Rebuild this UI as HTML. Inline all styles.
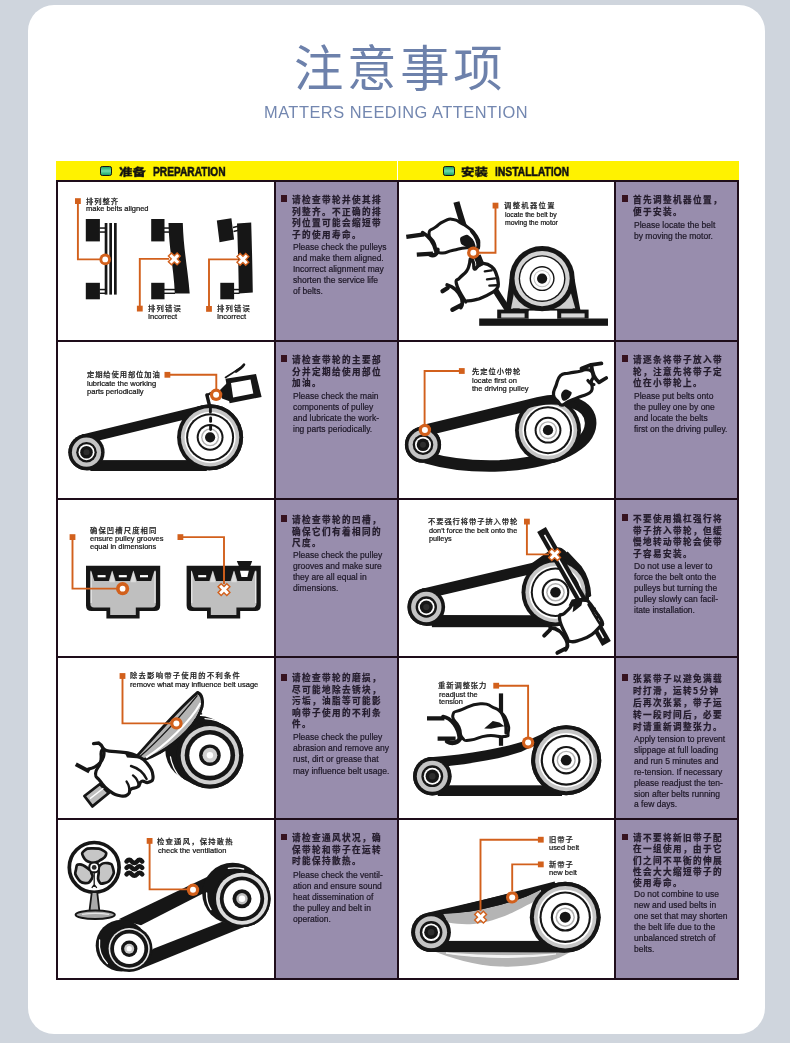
<!DOCTYPE html>
<html lang="zh-CN"><head><meta charset="utf-8"><title>注意事项</title>
<style>
*{box-sizing:border-box}
html,body{margin:0;padding:0}
body{width:790px;height:1043px;overflow:hidden;background:#cfd5dd;position:relative;
 font-family:"Liberation Sans","Noto Sans CJK SC",sans-serif;}
#card{position:absolute;left:28px;top:5px;width:737px;height:1029px;border-radius:26px;background:#fff}
#title{position:absolute;left:293.6px;top:31.1px;font-size:49.4px;line-height:76px;
 font-weight:400;color:#6d81ab;letter-spacing:3.7px;white-space:nowrap}
#sub{position:absolute;left:264.2px;top:101.6px;font-size:16.4px;line-height:20px;
 color:#7387b0;letter-spacing:0.5px;white-space:nowrap}
.hd{position:absolute;top:161px;height:19px;background:#fff200}
.ht{position:absolute;top:163px;height:18px;line-height:18px;font-size:13.3px;font-weight:bold;color:#111;white-space:nowrap;
 transform-origin:0 50%;-webkit-text-stroke:0.55px #111}
.hc{position:absolute;top:161.6px;height:18px;line-height:18px;font-size:13.4px;font-weight:900;color:#111;white-space:nowrap;
 font-family:"Noto Sans CJK SC","Liberation Sans",sans-serif;transform-origin:0 50%;transform:scaleY(0.74);-webkit-text-stroke:0.3px #111}
.ic{position:absolute;top:166.4px;width:11.6px;height:9.6px;border:1.8px solid #141414;border-radius:2.2px;
 background:linear-gradient(#1aa468,#6fdcab 50%,#1aa468)}
.pc{position:absolute;background:#988dad}
.ln{position:absolute;background:#1e0d1a}
.bl{position:absolute;width:6.6px;height:6.6px;background:#36121f}
.zh{position:absolute;font-family:"Noto Sans CJK SC","Liberation Sans",sans-serif;font-size:8.6px;line-height:11.5px;
 letter-spacing:1.4px;color:#241c2c;font-weight:700;white-space:nowrap;-webkit-text-stroke:0.25px #241c2c}
.en{position:absolute;font-size:8.5px;line-height:11.1px;color:#1d1726;white-space:nowrap;-webkit-text-stroke:0.2px #1d1726}
.lz,.le,.zh,.en,.ht,.hc,#title,#sub{will-change:transform}
.lz{position:absolute;font-family:"Noto Sans CJK SC","Liberation Sans",sans-serif;font-size:7.3px;line-height:9px;font-weight:500;-webkit-text-stroke:0.2px #1c1c1c;
 color:#1c1c1c;white-space:nowrap}
.le{position:absolute;color:#151515;white-space:nowrap;-webkit-text-stroke:0.22px #151515}
svg{position:absolute;left:0;top:0}
</style></head>
<body>
<div id="card"></div>
<div id="title">注意事项</div>
<div id="sub">MATTERS NEEDING ATTENTION</div>
<div class="hd" style="left:55.7px;width:341.4px"></div>
<div class="hd" style="left:398px;width:340.6px"></div>
<div class="ic" style="left:100px"></div>
<div class="hc" style="left:119px">准备</div>
<div class="ht" style="left:152.8px;transform:scaleX(0.765)">PREPARATION</div>
<div class="ic" style="left:443px"></div>
<div class="hc" style="left:461px">安装</div>
<div class="ht" style="left:494.8px;transform:scaleX(0.775)">INSTALLATION</div>
<div class="pc" style="left:274.6px;top:180.5px;width:123.0px;height:798.2px"></div>
<div class="pc" style="left:615.1px;top:180.5px;width:122.8px;height:798.2px"></div>
<div class="ln" style="left:55.7px;top:179.5px;width:683.2px;height:2px"></div>
<div class="ln" style="left:55.7px;top:339.5px;width:683.2px;height:2px"></div>
<div class="ln" style="left:55.7px;top:497.7px;width:683.2px;height:2px"></div>
<div class="ln" style="left:55.7px;top:655.5px;width:683.2px;height:2px"></div>
<div class="ln" style="left:55.7px;top:817.7px;width:683.2px;height:2px"></div>
<div class="ln" style="left:55.7px;top:977.7px;width:683.2px;height:2px"></div>
<div class="ln" style="left:55.7px;top:179.5px;width:2px;height:800.2px"></div>
<div class="ln" style="left:273.6px;top:179.5px;width:2px;height:800.2px"></div>
<div class="ln" style="left:396.6px;top:179.5px;width:2px;height:800.2px"></div>
<div class="ln" style="left:614.1px;top:179.5px;width:2px;height:800.2px"></div>
<div class="ln" style="left:736.9px;top:179.5px;width:2px;height:800.2px"></div>
<div class="bl" style="left:280.5px;top:195.3px"></div>
<div class="zh" style="left:291.6px;top:193.6px;line-height:11.5px">请检查带轮并使其排<br>列整齐。不正确的排<br>列位置可能会缩短带<br>子的使用寿命。</div>
<div class="en" style="left:292.5px;top:241.8px;line-height:11.0px">Please check the pulleys<br>and make them aligned.<br>Incorrect alignment may<br>shorten the service life<br>of belts.</div>
<div class="bl" style="left:621.9px;top:195.3px"></div>
<div class="zh" style="left:633.0px;top:193.5px;line-height:11.7px">首先调整机器位置，<br>便于安装。</div>
<div class="en" style="left:633.9px;top:219.7px;line-height:10.8px">Please locate the belt<br>by moving the motor.</div>
<div class="bl" style="left:280.5px;top:355.3px"></div>
<div class="zh" style="left:291.6px;top:353.6px;line-height:11.5px">请检查带轮的主要部<br>分并定期给使用部位<br>加油。</div>
<div class="en" style="left:292.5px;top:390.5px;line-height:11.1px">Please check the main<br>components of pulley<br>and lubricate the work-<br>ing parts periodically.</div>
<div class="bl" style="left:621.9px;top:355.3px"></div>
<div class="zh" style="left:633.0px;top:353.6px;line-height:11.5px">请逐条将带子放入带<br>轮，注意先将带子定<br>位在小带轮上。</div>
<div class="en" style="left:633.9px;top:390.8px;line-height:11.1px">Please put belts onto<br>the pulley one by one<br>and locate the belts<br>first on the driving pulley.</div>
<div class="bl" style="left:280.5px;top:515.2px"></div>
<div class="zh" style="left:291.6px;top:513.5px;line-height:11.6px">请检查带轮的凹槽，<br>确保它们有着相同的<br>尺度。</div>
<div class="en" style="left:292.5px;top:549.6px;line-height:11.0px">Please check the pulley<br>grooves and make sure<br>they are all equal in<br>dimensions.</div>
<div class="bl" style="left:621.9px;top:514.4px"></div>
<div class="zh" style="left:633.0px;top:512.7px;line-height:11.5px">不要使用撬杠强行将<br>带子挤入带轮，但缓<br>慢地转动带轮会使带<br>子容易安装。</div>
<div class="en" style="left:633.9px;top:560.5px;line-height:11.0px">Do not use a lever to<br>force the belt onto the<br>pulleys but turning the<br>pulley slowly can facil-<br>itate installation.</div>
<div class="bl" style="left:280.5px;top:674.0px"></div>
<div class="zh" style="left:291.6px;top:672.2px;line-height:11.6px">请检查带轮的磨损，<br>尽可能地除去锈块，<br>污垢，油脂等可能影<br>响带子使用的不利条<br>件。</div>
<div class="en" style="left:292.5px;top:731.9px;line-height:11.2px">Please check the pulley<br>abrasion and remove any<br>rust, dirt or grease that<br>may influence belt usage.</div>
<div class="bl" style="left:621.9px;top:674.0px"></div>
<div class="zh" style="left:633.0px;top:672.0px;line-height:12.0px">张紧带子以避免满载<br>时打滑，运转5分钟<br>后再次张紧，带子运<br>转一段时间后，必要<br>时请重新调整张力。</div>
<div class="en" style="left:633.9px;top:733.6px;line-height:10.9px">Apply tension to prevent<br>slippage at full loading<br>and run 5 minutes and<br>re-tension. If necessary<br>please readjust the ten-<br>sion after belts running<br>a few days.</div>
<div class="bl" style="left:280.5px;top:833.6px"></div>
<div class="zh" style="left:291.6px;top:831.9px;line-height:11.5px">请检查通风状况，确<br>保带轮和带子在运转<br>时能保持散热。</div>
<div class="en" style="left:292.5px;top:869.6px;line-height:11.0px">Please check the ventil-<br>ation and ensure sound<br>heat dissemination of<br>the pulley and belt in<br>operation.</div>
<div class="bl" style="left:621.9px;top:833.6px"></div>
<div class="zh" style="left:633.0px;top:832.0px;line-height:11.3px">请不要将新旧带子配<br>在一组使用，由于它<br>们之间不平衡的伸展<br>性会大大缩短带子的<br>使用寿命。</div>
<div class="en" style="left:633.9px;top:889.2px;line-height:11.08px">Do not combine to use<br>new and used belts in<br>one set that may shorten<br>the belt life due to the<br>unbalanced stretch of<br>belts.</div>
<svg width="790" height="1043" viewBox="0 0 790 1043">
<rect x="85.8" y="219" width="14.1" height="22.4" fill="#161616" /><rect x="85.8" y="282.8" width="14.1" height="16.5" fill="#161616" /><rect x="99.5" y="227.3" width="5.5" height="1.5" fill="#161616" /><rect x="99.5" y="231.3" width="5.5" height="1.5" fill="#161616" /><rect x="99.5" y="288.8" width="5.5" height="1.5" fill="#161616" /><rect x="99.5" y="292.6" width="5.5" height="1.4" fill="#161616" /><rect x="104.7" y="223" width="2.7" height="71.6" fill="#161616" /><rect x="109.3" y="223" width="2.7" height="71.6" fill="#161616" /><rect x="114" y="223" width="2.7" height="71.6" fill="#161616" /><polyline points="77.9,203 77.9,259.4 100,259.4" fill="none" stroke="#d2601c" stroke-width="1.9" /><rect x="75" y="198.2" width="5.8" height="5.8" fill="#d2601c" /><circle cx="105.2" cy="259.4" r="5.8" fill="#d2601c" /><circle cx="105.2" cy="259.4" r="2.9" fill="#fff" /><rect x="151.2" y="219" width="13.3" height="22.4" fill="#161616" /><rect x="151.2" y="282.8" width="13.3" height="16.5" fill="#161616" /><rect x="164" y="227.3" width="5" height="1.5" fill="#161616" /><rect x="164" y="231.3" width="5" height="1.5" fill="#161616" /><rect x="164" y="288.8" width="11" height="1.5" fill="#161616" /><rect x="164" y="292.6" width="11" height="1.4" fill="#161616" /><path d="M168.5 223 L182.8 223 C183.5 250 188 270 189.7 293.5 L174.8 293.5 C174 270 169 250 168.5 223Z" fill="#161616" /><polyline points="139.8,307 139.8,258.9 169,258.9" fill="none" stroke="#d2601c" stroke-width="1.9" /><rect x="136.9" y="305.7" width="5.8" height="5.8" fill="#d2601c" /><path d="M171.5 256.1L177.1 261.7M177.1 256.1L171.5 261.7" stroke="#d2601c" stroke-width="5.8" fill="none" stroke-linecap="square"/><path d="M171.5 256.1L177.1 261.7M177.1 256.1L171.5 261.7" stroke="#fff" stroke-width="3.0" fill="none" stroke-linecap="square"/><polygon points="216.8,220.4 231.4,218.2 234.1,239.5 219.5,242.2" fill="#161616" /><rect x="220.3" y="282.8" width="13.8" height="16.5" fill="#161616" /><path d="M233 227.5 L238 226.3 M233.5 231.5 L238.5 230.3" fill="none" stroke="#161616" stroke-width="1.5" /><rect x="234" y="288.8" width="5.5" height="1.5" fill="#161616" /><rect x="234" y="292.6" width="5.5" height="1.4" fill="#161616" /><path d="M237 223.6 L251.2 222.6 C252 250 252.5 270 252.8 292.6 L238.8 293.5 C238.5 270 238 250 237 223.6Z" fill="#161616" /><polyline points="209,307 209,259.4 238,259.4" fill="none" stroke="#d2601c" stroke-width="1.9" /><rect x="206.1" y="306" width="5.8" height="5.8" fill="#d2601c" /><path d="M240.1 256.6L245.7 262.2M245.7 256.6L240.1 262.2" stroke="#d2601c" stroke-width="5.8" fill="none" stroke-linecap="square"/><path d="M240.1 256.6L245.7 262.2M245.7 256.6L240.1 262.2" stroke="#fff" stroke-width="3.0" fill="none" stroke-linecap="square"/>
<rect x="479.2" y="318.5" width="128.8" height="7.3" fill="#161616" /><polygon points="509.6,279 505.4,311.2 580.6,311.2 574.6,279" fill="#161616" /><polygon points="514.2,292 511,308.8 575.4,308.8 570.6,292" fill="#cdcdcd" /><rect x="528.7" y="310.6" width="28.5" height="8" fill="#fff" /><rect x="497.2" y="309.6" width="31.4" height="9" fill="#161616" /><rect x="501.2" y="313.4" width="23.4" height="4.2" fill="#d8d8d8" /><rect x="512.7" y="308.4" width="7" height="2" fill="#161616" /><rect x="557.2" y="309.6" width="31.4" height="9" fill="#161616" /><rect x="561.2" y="313.4" width="23.4" height="4.2" fill="#d8d8d8" /><rect x="572.7" y="308.4" width="7" height="2" fill="#161616" /><circle cx="542.1" cy="278.6" r="32.6" fill="#161616" /><circle cx="542.1" cy="278.6" r="27.6" fill="#d2d2d2" /><circle cx="542.1" cy="278.6" r="23.4" fill="#161616" /><circle cx="542.1" cy="278.6" r="22" fill="#fff" /><circle cx="542.1" cy="278.6" r="12.5" fill="#161616" /><circle cx="542.1" cy="278.6" r="11.1" fill="#fff" /><circle cx="542.1" cy="278.6" r="8.6" fill="#c4c4c4" /><circle cx="542.1" cy="278.6" r="7.6" fill="#fff" /><circle cx="542.1" cy="278.6" r="5.1" fill="#161616" /><path d="M456.4 202 C462 222 468 240 474.5 252.5 C484 272 496 292 507.4 309" fill="none" stroke="#161616" stroke-width="6.2" /><path d="M406.3 236.9 L424 234.4 M416.8 254.6 L433 253.6" fill="none" stroke="#161616" stroke-width="4.4" stroke-linecap="butt"/><path d="M429 233.5C429.4 228.2 430.4 231.3 435.5 227.2C440.6 223.1 438.5 223.8 444.4 221.2C450.3 218.6 447.7 218.7 453.2 219.4C458.7 220.1 455.9 220.4 461 223.2C466.1 226 463.6 223.8 468.6 227.9C473.6 232 472.6 230.4 476 235.6C479.4 240.8 478.9 239.3 478.8 243.6C478.7 247.9 479.6 247 475.6 248.4C471.6 249.8 474.3 247.2 466.8 247.8C459.3 248.4 461.3 248.5 453.2 250.2C445.1 251.9 448 253 442.5 252.9C437 252.8 439.4 253.3 436.6 250C433.8 246.7 436.7 248.5 434.2 243C431.7 237.5 428.6 238.8 429 233.5Z" fill="#fff" stroke="#161616" stroke-width="3" stroke-linejoin="round" stroke-linecap="round"/><path d="M422.6 232.6 C429 236 434 243 436 251.6" fill="none" stroke="#161616" stroke-width="3.6" stroke-linecap="round"/><path d="M430 254.6 C433.5 256.5 437.5 254.5 437.6 249.5" fill="none" stroke="#161616" stroke-width="4.2" stroke-linecap="round"/><path d="M461 241C460.3 237.8 461 237.6 464 236.4C467 235.2 466.7 235.1 470 237.5C473.3 239.9 473 240.3 474 243.5C475 246.7 475.7 246.2 473 247C470.3 247.8 470 248 466 246C462 244 461.7 244.2 461 241Z" fill="#161616" stroke="#161616" stroke-width="1.5" stroke-linejoin="round" stroke-linecap="round"/><path d="M471.5 231 C476 236 478.5 242 478.4 248" fill="none" stroke="#161616" stroke-width="3.4" stroke-linecap="round"/><path d="M442.6 291.2 L447.6 288 M452.4 309.8 L460.6 305.4" fill="none" stroke="#161616" stroke-width="4.4" stroke-linecap="round"/><path d="M456.4 283.7C455.2 278 456.9 281.3 459.6 278C462.3 274.7 463.9 274.8 466.5 271.2C469.1 267.6 468.2 267.8 469.3 264.4C470.4 261 469.5 259.1 470.6 258.6C471.7 258.1 472.4 259.8 473.4 262.6C474.4 265.4 473 268.2 474.4 269C475.8 269.8 476.2 267.1 478.6 265.6C481 264.1 480.1 263.1 483.5 263.4C486.9 263.7 488.1 263.9 491.5 266.6C494.9 269.3 494.3 269.2 496.1 273.5C497.9 277.8 498 278.7 498.2 282.6C498.4 286.5 498.8 285.6 497 288.3C495.2 291 495.4 290.4 491.5 292.8C487.6 295.2 486.6 295.6 482.4 297.4C478.2 299.2 479.5 298.8 475.6 299.7C471.7 300.6 470.6 300.9 467.6 300.8C464.6 300.7 467.2 304.1 464.2 299.5C461.2 294.9 457.6 289.4 456.4 283.7Z" fill="#fff" stroke="#161616" stroke-width="3.3" stroke-linejoin="round" stroke-linecap="round"/><path d="M447.2 285 C453 286.6 458.6 291.6 461.4 297.6 C462.8 301 462.6 304.6 460.8 307.6" fill="none" stroke="#161616" stroke-width="3.8" stroke-linecap="round"/><polygon points="475.4,256 480.6,254.6 484.6,264.4 476.6,268.6" fill="#161616" /><path d="M484.8 271.4 L491.6 270.4 M487 279.4 L495.2 278.4 M489.4 285.6 L496.4 285.2" fill="none" stroke="#161616" stroke-width="2.4" stroke-linecap="round"/><polyline points="495.5,204 495.5,252.7 479,252.7" fill="none" stroke="#d2601c" stroke-width="1.9" /><rect x="492.6" y="202.7" width="5.8" height="5.8" fill="#d2601c" /><circle cx="473.3" cy="252.7" r="6.2" fill="#d2601c" /><circle cx="473.3" cy="252.7" r="3" fill="#fff" />
<circle cx="86.5" cy="452.2" r="18.1" fill="#161616" /><circle cx="210.1" cy="437.3" r="33" fill="#161616" /><polygon points="86.5,470.3 210.1,470.3 202.3,405.2 82.2,434.6" fill="#161616" /><circle cx="86.5" cy="452.2" r="8.3" fill="#fff" /><circle cx="210.1" cy="437.3" r="23.2" fill="#fff" /><polygon points="86.5,460.5 210.1,460.5 204.6,414.8 84.5,444.1" fill="#fff" /><rect x="90.4" y="460.2" width="116.4" height="10.8" fill="#161616" /><circle cx="86.5" cy="452.2" r="18.1" fill="#161616" /><circle cx="86.5" cy="452.2" r="14.6" fill="#c4c4c4" /><circle cx="86.5" cy="452.2" r="10.3" fill="#161616" /><circle cx="86.5" cy="452.2" r="8" fill="#fff" /><circle cx="86.5" cy="452.2" r="6.3" fill="#161616" /><circle cx="86.5" cy="452.2" r="3" fill="#2e2e2e" /><circle cx="210.1" cy="437.3" r="33" fill="#161616" /><circle cx="210.1" cy="437.3" r="29.2" fill="#c6c6c6" /><circle cx="210.1" cy="437.3" r="25.6" fill="#fff" /><circle cx="210.1" cy="437.3" r="24" fill="#161616" /><circle cx="210.1" cy="437.3" r="22" fill="#fff" /><circle cx="210.1" cy="437.3" r="13.4" fill="#161616" /><circle cx="210.1" cy="437.3" r="11.4" fill="#fff" /><circle cx="210.1" cy="437.3" r="9" fill="#b0b0b0" /><circle cx="210.1" cy="437.3" r="7.6" fill="#fff" /><circle cx="210.1" cy="437.3" r="5.1" fill="#161616" /><path d="M210.4 406V412M210.6 418V421.4M210.6 425.6V429.6" fill="none" stroke="#161616" stroke-width="2.9" stroke-linecap="round"/><path d="M206.9 395 L209.6 406" fill="none" stroke="#161616" stroke-width="3.4" stroke-linecap="round"/><path d="M207 395.2 L211 393" fill="none" stroke="#161616" stroke-width="2.4" stroke-linecap="round"/><polygon points="219,391 229.5,380.5 231.5,402 222,398.5" fill="#161616" /><polygon points="225.5,378.8 256,373.9 261.6,396.9 229.6,403.2" fill="#161616" /><polygon points="231,383 250.5,379.5 253.3,393.4 233.1,397.6" fill="#fff" /><path d="M225.5 377.5 C232 373 239 369.5 243.8 364.8" fill="none" stroke="#161616" stroke-width="1.6" stroke-linecap="round"/><path d="M236 371.5 C239.5 369.5 242.5 367 244 364.6" fill="none" stroke="#161616" stroke-width="2.6" stroke-linecap="round"/><polyline points="170,374.8 216.3,374.8 216.3,389" fill="none" stroke="#d2601c" stroke-width="1.9" /><rect x="164.5" y="371.9" width="5.8" height="5.8" fill="#d2601c" /><circle cx="216.1" cy="394.8" r="6.2" fill="#d2601c" /><circle cx="216.1" cy="394.8" r="3" fill="#fff" />
<circle cx="423" cy="444.7" r="18.1" fill="#161616" /><path d="M428 429.6 L538 402.8 C566 396 591.6 404 590.6 424 C589.6 444 560 462 500 465.8 C470 466.8 445 463.2 426 457.6" fill="none" stroke="#161616" stroke-width="11.6" stroke-linejoin="round"/><circle cx="423" cy="444.7" r="18.1" fill="#161616" /><circle cx="423" cy="444.7" r="14.6" fill="#c4c4c4" /><circle cx="423" cy="444.7" r="10.3" fill="#161616" /><circle cx="423" cy="444.7" r="8" fill="#fff" /><circle cx="423" cy="444.7" r="6.3" fill="#161616" /><circle cx="423" cy="444.7" r="3" fill="#2e2e2e" /><circle cx="548" cy="430.2" r="33" fill="#161616" /><circle cx="548" cy="430.2" r="29.2" fill="#c6c6c6" /><circle cx="548" cy="430.2" r="25.6" fill="#fff" /><circle cx="548" cy="430.2" r="24" fill="#161616" /><circle cx="548" cy="430.2" r="22" fill="#fff" /><circle cx="548" cy="430.2" r="13.4" fill="#161616" /><circle cx="548" cy="430.2" r="11.4" fill="#fff" /><circle cx="548" cy="430.2" r="9" fill="#b0b0b0" /><circle cx="548" cy="430.2" r="7.6" fill="#fff" /><circle cx="548" cy="430.2" r="5.1" fill="#161616" /><path d="M528 405 C543 400.2 561 399.8 577 406.4" fill="none" stroke="#161616" stroke-width="6.4" /><polyline points="459.5,371 424.6,371 424.6,424" fill="none" stroke="#d2601c" stroke-width="1.9" /><rect x="458.9" y="368.1" width="5.8" height="5.8" fill="#d2601c" /><circle cx="424.9" cy="430" r="6.2" fill="#d2601c" /><circle cx="424.9" cy="430" r="3" fill="#fff" /><path d="M553.5 394.9C553 390.9 554.4 390.2 556.1 385.4C557.8 380.6 557.3 378.7 560.4 375.6C563.5 372.6 563.6 374.3 568.5 373.2C573.4 372.1 575.6 372.2 579.9 371.3C584.2 370.4 582.8 369.7 585.6 369.6C588.5 369.6 589.4 369.3 591.3 371.1C593.2 372.9 593.2 374.2 593.2 376.8C593.2 379.4 591.5 378.8 591.3 381.6C591 384.5 592.7 385.4 592.2 388.2C591.7 391 592.5 390.9 589.4 393C586.3 395.1 585.1 394.7 579.9 396.8C574.7 398.9 573 399.4 568.5 401.5C564 403.6 564.6 405.2 562 405.2C559.4 405.2 560.1 404.1 558 401.5C555.9 398.9 554 398.9 553.5 394.9Z" fill="#fff" stroke="#161616" stroke-width="3.2" stroke-linejoin="round" stroke-linecap="round"/><path d="M581.5 368.6 L591 364.8 L601.4 363.4" fill="none" stroke="#161616" stroke-width="3.8" stroke-linecap="round" stroke-linejoin="round"/><path d="M591.4 365.6 C592 372 594.5 378.5 599 382.4 L606.2 378" fill="none" stroke="#161616" stroke-width="3.8" stroke-linecap="round" stroke-linejoin="round"/><path d="M587.8 380.4 C589.5 383 591.6 384.4 594 384.6" fill="none" stroke="#161616" stroke-width="3" stroke-linecap="round"/><path d="M563.7 391.3C566 389.3 567 390.4 569.2 391.6C571.4 392.8 571.3 392.4 570.2 395C569.1 397.6 568.5 398.5 565.8 399.4C563.1 400.3 562.9 400.3 562.2 397.6C561.5 394.9 561.4 393.3 563.7 391.3Z" fill="#161616" stroke="#161616" stroke-width="1.6" stroke-linejoin="round" stroke-linecap="round"/>
<path d="M86 565.7 H160.2 V605.5 Q160.2 611 154.7 611 H139.6 V618.5 H106.4 V611 H91.5 Q86 611 86 605.5Z" fill="#161616" /><path d="M90.4 570.7 H155.8 V604 Q155.8 607.4 152.2 607.4 H135.8 V615 H110.2 V607.4 H94 Q90.4 607.4 90.4 604Z" fill="#bfbfbf" /><path d="M91.2 571.7 V603 M155 571.7 V603" fill="none" stroke="#e8e8e8" stroke-width="1.2" /><polygon points="90.6,568.7 112.6,568.7 108.8,581.1 94.4,581.1" fill="#161616" /><rect x="97.6" y="575.1" width="8" height="2.2" fill="#fff" /><polygon points="111.8,568.7 133.8,568.7 130,581.1 115.6,581.1" fill="#161616" /><rect x="118.8" y="575.1" width="8" height="2.2" fill="#fff" /><polygon points="133,568.7 155,568.7 151.2,581.1 136.8,581.1" fill="#161616" /><rect x="140" y="575.1" width="8" height="2.2" fill="#fff" /><polygon points="109.4,582.2 112.2,571.2 115,582.2" fill="#dcdcdc" /><polygon points="130.6,582.2 133.4,571.2 136.2,582.2" fill="#dcdcdc" /><path d="M186.6 565.7 H260.8 V605.5 Q260.8 611 255.3 611 H240.2 V618.5 H207 V611 H192.1 Q186.6 611 186.6 605.5Z" fill="#161616" /><path d="M191 570.7 H256.4 V604 Q256.4 607.4 252.8 607.4 H236.4 V615 H210.8 V607.4 H194.6 Q191 607.4 191 604Z" fill="#bfbfbf" /><path d="M191.8 571.7 V603 M255.6 571.7 V603" fill="none" stroke="#e8e8e8" stroke-width="1.2" /><polygon points="191.2,568.7 213.2,568.7 209.4,581.1 195,581.1" fill="#161616" /><rect x="198.2" y="575.1" width="8" height="2.2" fill="#fff" /><polygon points="212.4,568.7 234.4,568.7 230.6,581.1 216.2,581.1" fill="#161616" /><polygon points="233.6,568.7 255.6,568.7 251.8,581.1 237.4,581.1" fill="#161616" /><polygon points="210,582.2 212.8,571.2 215.6,582.2" fill="#dcdcdc" /><polygon points="231.2,582.2 234,571.2 236.8,582.2" fill="#dcdcdc" /><polygon points="236.8,561.1 252.2,561.1 250,566.7 239.2,566.7" fill="#161616" /><polygon points="240,570.7 248.8,570.7 247.4,577.1 241.4,577.1" fill="#fff" /><polyline points="72.5,539 72.5,588.6 117,588.6" fill="none" stroke="#d2601c" stroke-width="1.9" /><rect x="69.6" y="534.2" width="5.8" height="5.8" fill="#d2601c" /><circle cx="122.6" cy="588.7" r="6.6" fill="#d2601c" /><circle cx="122.6" cy="588.7" r="2.9" fill="#fff" /><polyline points="182,537.1 224,537.1 224,584" fill="none" stroke="#d2601c" stroke-width="1.9" /><rect x="177.5" y="534.2" width="5.8" height="5.8" fill="#d2601c" /><path d="M221.2 586.8L226.8 592.4M226.8 586.8L221.2 592.4" stroke="#d2601c" stroke-width="5.8" fill="none" stroke-linecap="square"/><path d="M221.2 586.8L226.8 592.4M226.8 586.8L221.2 592.4" stroke="#fff" stroke-width="3.0" fill="none" stroke-linecap="square"/>
<circle cx="426.3" cy="607" r="18.8" fill="#161616" /><circle cx="555.5" cy="592.3" r="34" fill="#161616" /><polygon points="426.2,625.8 555.4,626.3 547.7,559.2 422,588.7" fill="#161616" /><circle cx="426.3" cy="607" r="8" fill="#fff" /><circle cx="555.5" cy="592.3" r="23.2" fill="#fff" /><polygon points="426.3,615 555.4,615.5 550.2,569.7 424.5,599.2" fill="#fff" /><rect x="431.9" y="615.6" width="117.1" height="11.6" fill="#161616" /><path d="M530 564.5 L551 549.5 C556 546 561 546.5 565 550.5 L579 566 C586 575 590 585 590.5 597 L580 597 L560 565Z" fill="#161616" /><circle cx="426.3" cy="607" r="18.8" fill="#161616" /><circle cx="426.3" cy="607" r="15.2" fill="#c4c4c4" /><circle cx="426.3" cy="607" r="10.7" fill="#161616" /><circle cx="426.3" cy="607" r="8.3" fill="#fff" /><circle cx="426.3" cy="607" r="6.5" fill="#161616" /><circle cx="426.3" cy="607" r="3.1" fill="#2e2e2e" /><circle cx="555.5" cy="592.3" r="34" fill="#161616" /><circle cx="555.5" cy="592.3" r="30.1" fill="#c6c6c6" /><circle cx="555.5" cy="592.3" r="26.4" fill="#fff" /><circle cx="555.5" cy="592.3" r="24.7" fill="#161616" /><circle cx="555.5" cy="592.3" r="22.7" fill="#fff" /><circle cx="555.5" cy="592.3" r="13.8" fill="#161616" /><circle cx="555.5" cy="592.3" r="11.7" fill="#fff" /><circle cx="555.5" cy="592.3" r="9.3" fill="#b0b0b0" /><circle cx="555.5" cy="592.3" r="7.8" fill="#fff" /><circle cx="555.5" cy="592.3" r="5.3" fill="#161616" /><path d="M566 553 L580 568 C585.5 575.5 588.5 584 589 596" fill="none" stroke="#161616" stroke-width="4.5" /><path d="M541.5 529.5 L606.5 643.5" fill="none" stroke="#161616" stroke-width="10" /><path d="M544.5 534.8 L603.5 638.2" fill="none" stroke="#fff" stroke-width="1.6" /><polyline points="526.9,523 526.9,554.4 549,554.4" fill="none" stroke="#d2601c" stroke-width="1.9" /><rect x="524" y="518.7" width="5.8" height="5.8" fill="#d2601c" /><path d="M551.8 551.9L557.4 557.5M557.4 551.9L551.8 557.5" stroke="#d2601c" stroke-width="5.8" fill="none" stroke-linecap="square"/><path d="M551.8 551.9L557.4 557.5M557.4 551.9L551.8 557.5" stroke="#fff" stroke-width="3.0" fill="none" stroke-linecap="square"/><path d="M544.2 635.6 L550 629.8 M557.4 652.8 L565.2 648.8" fill="none" stroke="#161616" stroke-width="4" stroke-linecap="round"/><path d="M559.5 618.4C559 612.4 561.5 616.4 564.4 613.4C567.3 610.4 567.8 610.4 570.4 607.3C573 604.2 569.9 603.4 574 601.6C578.1 599.8 581.4 600 585.6 600.4C589.8 600.8 587.3 600.6 589.7 603.2C592.1 605.8 592.1 606.5 594.7 610.3C597.3 614.1 597.5 613.9 599.6 617.4C601.7 620.9 602.5 621 602.6 623.5C602.7 626 602.7 623.7 599.8 626.7C596.9 629.7 596.8 631.1 591.7 634.6C586.6 638.1 586.2 637.9 580.6 639.7C575 641.5 574.4 642.5 570.6 641.5C566.8 640.5 569.4 642.2 566.4 636C563.4 629.8 560 624.4 559.5 618.4Z" fill="#fff" stroke="#161616" stroke-width="3.3" stroke-linejoin="round" stroke-linecap="round"/><path d="M550.2 627.6 C556.5 628 562.5 632.5 566 639.5 C568 643.6 568 647 565.6 649.8" fill="none" stroke="#161616" stroke-width="3.8" stroke-linecap="round"/><polygon points="568.6,605.4 571.8,599.4 583.4,597.6 581.4,605.4 575.5,610.2 572.6,612.2 573.4,606.4" fill="#161616" /><path d="M588.6 604.6 L592.4 611.4 L594.6 608.6 M592.8 612.4 L596.6 618.6 L598.8 615.6 M597 619.4 L600.2 624.2 L601.8 621.4" fill="none" stroke="#161616" stroke-width="2.6" stroke-linecap="round" stroke-linejoin="round"/>
<circle cx="198.6" cy="749.2" r="33.4" fill="#161616" /><circle cx="209.9" cy="755.2" r="33.4" fill="#161616" /><polygon points="182.9,778.7 194.2,784.7 225.6,725.7 214.3,719.7" fill="#161616" /><path d="M170.5 757 C172.5 768 178 777 186.5 782.5" fill="none" stroke="#fff" stroke-width="1.3" stroke-linecap="round"/><path d="M205 718.6 C214 719 222 722 228 727" fill="none" stroke="#fff" stroke-width="1.3" stroke-linecap="round"/><circle cx="209.9" cy="755.2" r="33.4" fill="#161616" /><circle cx="209.9" cy="755.2" r="29.2" fill="#cfcfcf" /><circle cx="209.9" cy="755.2" r="25.2" fill="#161616" /><circle cx="209.9" cy="755.2" r="20.6" fill="#fff" /><circle cx="209.9" cy="755.2" r="10.8" fill="#161616" /><circle cx="209.9" cy="755.2" r="7.4" fill="#d0d0d0" /><circle cx="209.9" cy="755.2" r="3.2" fill="#fff" /><path d="M136 757 C150 742 175 712 197.6 692.4 C202 694 203.5 700 202 707 C198 722 180 741 158 753.5 C150 758 142 760.5 137 761Z" fill="#b4b4b4" stroke="#161616" stroke-width="2.8" stroke-linejoin="round"/><path d="M146 757.6 C165 746 190 722 200.6 703" fill="none" stroke="#fff" stroke-width="2.2" /><path d="M140 756.6 C158 741 180 717 197.4 695.4" fill="none" stroke="#161616" stroke-width="1.3" /><path d="M197 692.6 C201.5 694 203.4 700 202 707 C198 722 181 741 159 753.2" fill="none" stroke="#161616" stroke-width="2.6" /><path d="M199 712.5 l2.6 1.4 M194.6 720 l2.6 1.6 M189 727.6 l2.4 1.8 M183 734.4 l2.2 2 M176.4 740.6 l2 2.2" fill="none" stroke="#161616" stroke-width="1.4" stroke-linecap="round"/><polygon points="84.4,796 99.9,784 108.8,793 92.4,806.4" fill="#bdbdbd" stroke="#161616" stroke-width="2.8" stroke-linejoin="round"/><path d="M90 798.6 L103.4 788.2" fill="none" stroke="#fff" stroke-width="1.4" /><path d="M75.8 764.2 L89.4 771.6" fill="none" stroke="#161616" stroke-width="4" stroke-linecap="butt"/><path d="M102 750C104.3 747.1 102.8 750.4 109.1 751.1C115.4 751.8 118.5 751.5 125.8 752.7C133.1 753.9 130.7 752.9 136.4 755.7C142.1 758.5 142.6 757.8 147 763.3C151.4 768.8 152.6 771.1 153 776.2C153.4 781.3 151.5 780.9 148.5 782.3C145.5 783.7 144.4 780.2 141.6 781.4C138.8 782.6 140.8 784.7 137.9 786.8C135 788.9 133.1 787.5 130.6 789.4C128.1 791.3 130.9 792.2 128.4 794C125.9 795.8 126.4 796.9 121.2 796C116 795.1 114.7 794.7 109 790.6C103.3 786.5 103.5 785.4 99.9 780.8C96.3 776.2 95.4 778.2 95.6 773.2C95.8 768.2 98.9 768.2 100.6 762C102.3 755.8 99.7 752.9 102 750Z" fill="#fff" stroke="#161616" stroke-width="3.2" stroke-linejoin="round" stroke-linecap="round"/><path d="M93.6 743.6 L98.6 743 C103 745.4 105 751 103.4 756.8 C101.4 763.4 95 767.8 88.4 769.2" fill="none" stroke="#161616" stroke-width="3.4" stroke-linecap="round"/><path d="M131 766 C138 768 143.5 772.5 146.6 779 M133 775.4 C136.5 778 138.4 781.5 138.6 785.6 M126.6 781.6 C128.8 784.8 129.8 788.4 129.2 792.4" fill="none" stroke="#161616" stroke-width="2.4" stroke-linecap="round"/><polygon points="124.4,752 136.6,755.2 139.6,758.6 127,757.6" fill="#161616" /><polyline points="122.5,678 122.5,723.4 171,723.4" fill="none" stroke="#d2601c" stroke-width="1.9" /><rect x="119.6" y="673.1" width="5.8" height="5.8" fill="#d2601c" /><circle cx="176.4" cy="723.4" r="6.2" fill="#d2601c" /><circle cx="176.4" cy="723.4" r="3" fill="#fff" />
<circle cx="432.3" cy="776.2" r="19.2" fill="#161616" /><circle cx="566.2" cy="760.2" r="35" fill="#161616" /><rect x="437.8" y="785.3" width="124.2" height="10.7" fill="#161616" /><path d="M427 758.6 L430.3 757.3 C450 755.6 468 753.6 486 750.2 C500 747.6 512 745 524 741.3 C535 737.6 545 732.6 554.3 727.4 L560 740 C550 743 540 744.6 531.5 747 C528 748.6 525 750 521.4 751.8 C510 755.4 498 758.4 486 760.6 C474 762.8 462 764.6 450.5 765.8 L440 768Z" fill="#161616" /><circle cx="432.3" cy="776.2" r="19.2" fill="#161616" /><circle cx="432.3" cy="776.2" r="15.5" fill="#c4c4c4" /><circle cx="432.3" cy="776.2" r="10.9" fill="#161616" /><circle cx="432.3" cy="776.2" r="8.5" fill="#fff" /><circle cx="432.3" cy="776.2" r="6.7" fill="#161616" /><circle cx="432.3" cy="776.2" r="3.2" fill="#2e2e2e" /><circle cx="566.2" cy="760.2" r="35" fill="#161616" /><circle cx="566.2" cy="760.2" r="31" fill="#c6c6c6" /><circle cx="566.2" cy="760.2" r="27.2" fill="#fff" /><circle cx="566.2" cy="760.2" r="25.5" fill="#161616" /><circle cx="566.2" cy="760.2" r="23.3" fill="#fff" /><circle cx="566.2" cy="760.2" r="14.2" fill="#161616" /><circle cx="566.2" cy="760.2" r="12.1" fill="#fff" /><circle cx="566.2" cy="760.2" r="9.5" fill="#b0b0b0" /><circle cx="566.2" cy="760.2" r="8.1" fill="#fff" /><circle cx="566.2" cy="760.2" r="5.4" fill="#161616" /><rect x="498.9" y="693.4" width="4.2" height="52.4" fill="#161616" /><polyline points="498.5,685.7 528.1,685.7 528.1,737" fill="none" stroke="#d2601c" stroke-width="1.9" /><rect x="493.3" y="682.8" width="5.8" height="5.8" fill="#d2601c" /><circle cx="528.1" cy="742.6" r="6.2" fill="#d2601c" /><circle cx="528.1" cy="742.6" r="3" fill="#fff" /><path d="M427 718.4 L444.4 718.4 M437.6 738.6 L455.6 738.6" fill="none" stroke="#161616" stroke-width="4.2" stroke-linecap="butt"/><path d="M452.8 715.6C453.8 710.3 454 712.9 462.3 709.4C470.6 705.9 471.2 704.4 480.4 703.8C489.6 703.2 486.7 704.6 493 707.3C499.3 710 497.1 708.6 501.3 712.8C505.5 717 504.8 715.4 506.9 721.2C509 727.1 509.1 727.7 508.2 732.3C507.3 736.9 510.2 735.6 504 736.6C497.8 737.6 497.4 734.8 487.4 735.8C477.4 736.8 478.2 739.4 470.7 740C463.2 740.6 465.8 741.7 462.3 737.8C458.8 733.9 461.9 733.7 459 727C456.1 720.3 451.8 720.9 452.8 715.6Z" fill="#fff" stroke="#161616" stroke-width="3" stroke-linejoin="round" stroke-linecap="round"/><path d="M443 716.6 C451 718 458.6 727 459.6 739.4" fill="none" stroke="#161616" stroke-width="3.8" stroke-linecap="round"/><path d="M447 741.4 C452 744.6 459 743 460.4 737.5" fill="none" stroke="#161616" stroke-width="4.4" stroke-linecap="round"/><polygon points="484.2,728.6 492.8,721 499.4,722.4 504.4,726.2 497,727.4 491,728.8" fill="#161616" /><path d="M501.6 713 C505 719 506.4 726 506 733" fill="none" stroke="#161616" stroke-width="3.2" stroke-linecap="round"/>
<circle cx="94.2" cy="867.4" r="24.9" fill="#fff" stroke="#161616" stroke-width="3.7" /><path d="M90.8 862.6C86.9 861.1 85.3 860.5 83.4 856.9C81.5 853.3 81.6 853.1 84.5 850.6C87.4 848.1 87.5 848.4 93.1 848.4C98.7 848.4 99.5 848.4 103.3 850.6C107 852.8 106.6 852.9 105.6 855.8C104.6 858.7 102.6 858.4 99.9 860.3C97.2 862.2 99.2 861.3 96.5 862C93.8 862.7 94.7 864.1 90.8 862.6Z" fill="#c6c6c6" stroke="#161616" stroke-width="2.7" stroke-linejoin="round" stroke-linecap="round"/><path d="M99.3 866C102.1 863.1 103.8 862.5 107.9 863.2C112 863.9 111.8 864 113 868.3C114.2 872.6 114.4 873 111.8 877.4C109.2 881.8 108.3 882.1 104.4 883.1C100.5 884.1 100.4 883.9 98.7 880.8C97 877.7 98.5 877.2 98.7 872.8C98.9 868.4 96.5 868.9 99.3 866Z" fill="#c6c6c6" stroke="#161616" stroke-width="2.7" stroke-linejoin="round" stroke-linecap="round"/><path d="M89.1 869.4C85.7 866.9 83.8 864.3 79.9 864.3C76 864.3 76.8 865.5 76 869.4C75.2 873.3 74.4 873.3 77.1 877.4C79.8 881.5 80.7 882.8 85.1 883.1C89.5 883.4 90 881.6 91.9 878.5C93.8 875.4 92.1 875.5 91.3 872.8C90.5 870.1 92.5 871.9 89.1 869.4Z" fill="#c6c6c6" stroke="#161616" stroke-width="2.7" stroke-linejoin="round" stroke-linecap="round"/><circle cx="94.2" cy="867.4" r="5" fill="#fff" stroke="#161616" stroke-width="2.1" /><circle cx="94.2" cy="867.4" r="2.4" fill="#2a2a2a" /><path d="M94.2 873 V887 M94.2 884.6 L91.8 887.8 M94.2 884.6 L96.8 887.8" fill="none" stroke="#161616" stroke-width="1.3" /><polygon points="91.8,892 97.2,892 99.4,911.4 89.4,911.4" fill="#a9a9a9" stroke="#161616" stroke-width="1.8" stroke-linejoin="round"/><ellipse cx="95.2" cy="914.8" rx="19.6" ry="4.2" fill="#a9a9a9" stroke="#161616" stroke-width="2"/><path d="M82 914.4 C90 913.2 101 913.2 109 914.4" fill="none" stroke="#e6e6e6" stroke-width="1.2" /><path d="M126.6 861.4 q2.6 -3 5.2 0 t5.2 0 t5.2 0" fill="none" stroke="#161616" stroke-width="4.6" stroke-linecap="round"/><path d="M126.6 867.8 q2.6 -3 5.2 0 t5.2 0 t5.2 0" fill="none" stroke="#161616" stroke-width="4.6" stroke-linecap="round"/><path d="M126.6 874.2 q2.6 -3 5.2 0 t5.2 0 t5.2 0" fill="none" stroke="#161616" stroke-width="4.6" stroke-linecap="round"/><polygon points="118.6,919.2 209.1,876 222,880 204,893 141,925.2" fill="#161616" /><polygon points="153.3,948.7 221.5,922 254.4,922.8 139.4,969.6 130,969" fill="#161616" /><circle cx="121.5" cy="945.6" r="25.8" fill="#161616" /><circle cx="129.2" cy="948.7" r="23.3" fill="#161616" /><circle cx="232.7" cy="893.2" r="30.5" fill="#161616" /><circle cx="242" cy="898.7" r="28.6" fill="#161616" /><path d="M99.6 940 C98.6 949 101.4 957.6 107.4 963.6" fill="none" stroke="#fff" stroke-width="1.3" stroke-linecap="round"/><path d="M206.6 893 C206.4 899.6 208 905 211 909.6" fill="none" stroke="#fff" stroke-width="1.4" stroke-linecap="round"/><path d="M228.4 868.4 C233.5 867.6 238.5 867.8 243.6 869" fill="none" stroke="#fff" stroke-width="1.4" stroke-linecap="round"/><circle cx="129.2" cy="948.7" r="22.4" fill="#161616" /><circle cx="129.2" cy="948.7" r="20.6" fill="#e4e4e4" /><circle cx="129.2" cy="948.7" r="19" fill="#161616" /><circle cx="129.2" cy="948.7" r="15.2" fill="#fff" /><circle cx="129.2" cy="948.7" r="8.2" fill="#161616" /><circle cx="129.2" cy="948.7" r="5" fill="#c9c9c9" /><circle cx="129.2" cy="948.7" r="2.6" fill="#fff" /><circle cx="242" cy="898.7" r="28.6" fill="#161616" /><circle cx="242" cy="898.7" r="26" fill="#dcdcdc" /><circle cx="242" cy="898.7" r="22.2" fill="#161616" /><circle cx="242" cy="898.7" r="18.4" fill="#fff" /><circle cx="242" cy="898.7" r="9.5" fill="#161616" /><circle cx="242" cy="898.7" r="5.7" fill="#bdbdbd" /><circle cx="242" cy="898.7" r="3.2" fill="#fff" /><polyline points="149.6,842 149.6,889.4 187,889.4" fill="none" stroke="#d2601c" stroke-width="1.9" /><rect x="146.7" y="838" width="5.8" height="5.8" fill="#d2601c" /><circle cx="193" cy="889.8" r="6.2" fill="#d2601c" /><circle cx="193" cy="889.8" r="3" fill="#fff" />
<path d="M432 950.5 C450 958 475 965.5 500 966.6 C530 967.4 555 962 572 951 L560 946 L440 946Z" fill="#b4b4b4" /><path d="M446 953.2 C480 958.6 525 958.6 556 954 C525 956.4 480 956 446 953.2Z" fill="#f4f4f4" stroke="#f4f4f4" stroke-width="1.2" /><circle cx="431.1" cy="932.2" r="19.8" fill="#161616" /><circle cx="565.2" cy="917.2" r="35.4" fill="#161616" /><polygon points="431,952 565,952.6 557.2,882.7 426.6,912.9" fill="#161616" /><circle cx="431.1" cy="932.2" r="9.2" fill="#fff" /><circle cx="565.2" cy="917.2" r="24.8" fill="#fff" /><polygon points="431.1,941.4 565.1,942 559.6,893 429,923.2" fill="#fff" /><rect x="436" y="940.9" width="110" height="10.9" fill="#161616" /><path d="M443 913.6 C456 913 470 912 473.2 911.1 C490 908 512 902 526.3 896.6 L541 889.5 L541 897 C536 901 530 904 526.3 905.4 C516 911 508 915 499.7 917.8 C490 921.5 480 923.6 473.2 924 C465 924.6 456 924 448 922.6Z" fill="#b4b4b4" /><path d="M433.6 912.6 L554.7 881.5 L556 889 L541 889.5 C536 892 531 894.6 526.3 896.6 C512 902 490 908 473.2 911.1 C462 912.8 452 913.6 443 913.9Z" fill="#161616" /><circle cx="431.1" cy="932.2" r="19.8" fill="#161616" /><circle cx="431.1" cy="932.2" r="16" fill="#c4c4c4" /><circle cx="431.1" cy="932.2" r="11.3" fill="#161616" /><circle cx="431.1" cy="932.2" r="8.8" fill="#fff" /><circle cx="431.1" cy="932.2" r="6.9" fill="#161616" /><circle cx="431.1" cy="932.2" r="3.3" fill="#2e2e2e" /><circle cx="565.2" cy="917.2" r="35.4" fill="#161616" /><circle cx="565.2" cy="917.2" r="31.3" fill="#c6c6c6" /><circle cx="565.2" cy="917.2" r="27.5" fill="#fff" /><circle cx="565.2" cy="917.2" r="25.7" fill="#161616" /><circle cx="565.2" cy="917.2" r="23.6" fill="#fff" /><circle cx="565.2" cy="917.2" r="14.4" fill="#161616" /><circle cx="565.2" cy="917.2" r="12.2" fill="#fff" /><circle cx="565.2" cy="917.2" r="9.7" fill="#b0b0b0" /><circle cx="565.2" cy="917.2" r="8.2" fill="#fff" /><circle cx="565.2" cy="917.2" r="5.5" fill="#161616" /><polyline points="540,839.7 480.5,839.7 480.5,911" fill="none" stroke="#d2601c" stroke-width="1.9" /><rect x="537.9" y="836.8" width="5.8" height="5.8" fill="#d2601c" /><path d="M477.8 914.4L483.4 920M483.4 914.4L477.8 920" stroke="#d2601c" stroke-width="5.8" fill="none" stroke-linecap="square"/><path d="M477.8 914.4L483.4 920M483.4 914.4L477.8 920" stroke="#fff" stroke-width="3.0" fill="none" stroke-linecap="square"/><polyline points="540,864.4 512.2,864.4 512.2,891" fill="none" stroke="#d2601c" stroke-width="1.9" /><rect x="537.9" y="861.5" width="5.8" height="5.8" fill="#d2601c" /><circle cx="512.2" cy="897.4" r="6.2" fill="#d2601c" /><circle cx="512.2" cy="897.4" r="3" fill="#fff" />
</svg>
<div class="lz" style="left:85.7px;top:196.6px;letter-spacing:0.97px">排列整齐</div>
<div class="le" style="left:86.0px;top:205.0px;font-size:7.5px;line-height:7.6px">make belts aligned</div>
<div class="lz" style="left:147.7px;top:304.3px;letter-spacing:1.20px">排列错误</div>
<div class="le" style="left:148.0px;top:312.9px;font-size:7.5px;line-height:7.6px">Incorrect</div>
<div class="lz" style="left:216.9px;top:304.3px;letter-spacing:1.20px">排列错误</div>
<div class="le" style="left:217.2px;top:312.9px;font-size:7.5px;line-height:7.6px">Incorrect</div>
<div class="lz" style="left:504.4px;top:201.0px;letter-spacing:1.34px">调整机器位置</div>
<div class="le" style="left:504.7px;top:211.3px;font-size:6.85px;line-height:7.6px">locate the belt by<br>moving the motor</div>
<div class="lz" style="left:87.1px;top:370.2px;letter-spacing:0.89px">定期给使用部位加油</div>
<div class="le" style="left:87.4px;top:380.0px;font-size:7.55px;line-height:8.1px">lubricate the working<br>parts periodically</div>
<div class="lz" style="left:472.0px;top:367.4px;letter-spacing:0.92px">先定位小带轮</div>
<div class="le" style="left:472.3px;top:377.2px;font-size:7.55px;line-height:8.1px">locate first on<br>the driving pulley</div>
<div class="lz" style="left:89.5px;top:525.5px;letter-spacing:1.14px">确保凹槽尺度相同</div>
<div class="le" style="left:89.8px;top:535.4px;font-size:7.5px;line-height:8.0px">ensure pulley grooves<br>equal in dimensions</div>
<div class="lz" style="left:428.4px;top:516.8px;letter-spacing:0.90px">不要强行将带子挤入带轮</div>
<div class="le" style="left:428.7px;top:526.6px;font-size:7.3px;line-height:8.4px">don't force the belt onto the<br>pulleys</div>
<div class="lz" style="left:129.9px;top:671.0px;letter-spacing:1.25px">除去影响带子使用的不利条件</div>
<div class="le" style="left:130.2px;top:680.9px;font-size:7.53px;line-height:8px">remove what may influence belt usage</div>
<div class="lz" style="left:438.2px;top:680.8px;letter-spacing:0.92px">重新调整张力</div>
<div class="le" style="left:438.5px;top:691.1px;font-size:7.4px;line-height:7.3px">readjust the<br>tension</div>
<div class="lz" style="left:157.3px;top:837.1px;letter-spacing:1.25px">检查通风，保持散热</div>
<div class="le" style="left:157.6px;top:847.0px;font-size:7.56px;line-height:8px">check the ventilation</div>
<div class="lz" style="left:549.1px;top:835.2px;letter-spacing:1.00px">旧带子</div>
<div class="le" style="left:549.4px;top:844.4px;font-size:7.45px;line-height:8px">used belt</div>
<div class="lz" style="left:549.1px;top:859.9px;letter-spacing:1.00px">新带子</div>
<div class="le" style="left:549.4px;top:868.5px;font-size:7.5px;line-height:8px">new belt</div>
</body></html>
